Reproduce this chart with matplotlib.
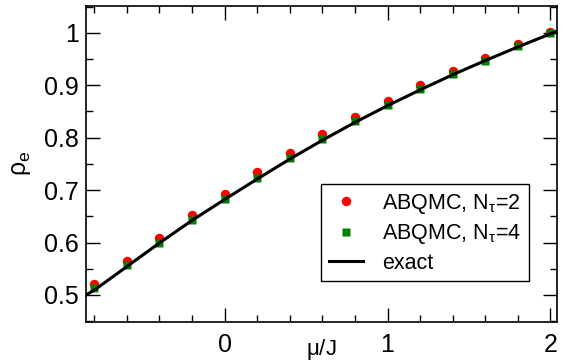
import numpy as np
from matplotlib import pyplot as plt
from matplotlib.ticker import MultipleLocator

plt.rc('font', family='Liberation Sans')
plt.rc('mathtext', fontset='custom', rm='Liberation Sans', it='Liberation Sans')

mu = [-0.8, -0.6, -0.4, -0.2, 0.0, 0.2, 0.4, 0.6, 0.8, 1.0, 1.2, 1.4, 1.6, 1.8, 2.0]
rho_n2 = [0.521, 0.565, 0.609, 0.652, 0.692, 0.734, 0.771, 0.807, 0.840,
          0.870, 0.900, 0.927, 0.952, 0.978, 1.001]
rho_n4 = [0.513, 0.557, 0.600, 0.643, 0.683, 0.723, 0.762, 0.797, 0.831,
          0.862, 0.893, 0.921, 0.947, 0.974, 0.999]

mu_exact = [-0.85, -0.8, -0.6, -0.4, -0.2, 0.0, 0.2, 0.4, 0.6, 0.8, 1.0,
            1.2, 1.4, 1.6, 1.8, 2.0, 2.05]
rho_exact = [0.500, 0.509, 0.554, 0.599, 0.642, 0.682, 0.721, 0.759, 0.795,
             0.829, 0.861, 0.891, 0.920, 0.947, 0.973, 0.998, 1.004]

fig = plt.figure(figsize=(5.64, 3.64), dpi=100)
ax = fig.add_axes([0.1525, 0.1162, 0.8351, 0.8673])

ax.plot(mu, rho_n2, 'o', color='#ff0000', ms=6.8, mec='none', label=r'ABQMC, N$_{\tau}$=2')
ax.plot(mu, rho_n4, 's', color='#008000', ms=5.2, mec='none', label=r'ABQMC, N$_{\tau}$=4')
ax.plot(mu_exact, rho_exact, '-', color='black', lw=2.2, label='exact')

ax.set_xlim(-0.85, 2.04)
ax.set_ylim(0.449, 1.051)
ax.xaxis.set_major_locator(MultipleLocator(1))
ax.xaxis.set_minor_locator(MultipleLocator(0.2))
ax.yaxis.set_major_locator(MultipleLocator(0.1))
ax.yaxis.set_minor_locator(MultipleLocator(0.05))
ax.set_yticks([0.5, 0.6, 0.7, 0.8, 0.9, 1.0])
ax.set_yticklabels(['0.5', '0.6', '0.7', '0.8', '0.9', '1'])
ax.tick_params(which='both', direction='in', top=True, right=True, labelsize=18, width=1)
ax.tick_params(which='major', length=10)
ax.tick_params(which='minor', length=5)
ax.tick_params(axis='x', pad=8)
ax.tick_params(axis='y', pad=5)
for s in ax.spines.values():
    s.set_linewidth(1.2)

ax.set_xlabel(r'$\mu$/J', fontsize=16)
ax.xaxis.set_label_coords(0.5, -0.05)
ax.set_ylabel(r'$\rho_e$', fontsize=18)
ax.yaxis.set_label_coords(-0.113, 0.5)

leg = ax.legend(loc='upper left', bbox_to_anchor=(0.499, 0.436), fontsize=15.5,
                frameon=True, fancybox=False, edgecolor='black', framealpha=1,
                handlelength=1.6, handletextpad=0.9, borderpad=0.35,
                labelspacing=0.3, numpoints=1, borderaxespad=0)
leg.get_frame().set_linewidth(1.0)

plt.savefig('out.png', dpi=100)
